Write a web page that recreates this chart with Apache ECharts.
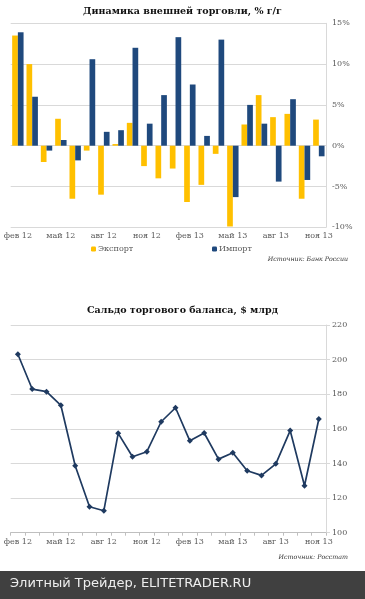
<!DOCTYPE html>
<html><head><meta charset="utf-8">
<script src="https://cdn.jsdelivr.net/npm/echarts@6/dist/echarts.min.js"></script>
<style>html,body{margin:0;padding:0;background:#fff}#c{width:365px;height:599px}</style>
</head><body><div id="c"></div>
<script>
const months = ['фев 12','мар 12','апр 12','май 12','июн 12','июл 12','авг 12','сен 12','окт 12','ноя 12','дек 12','янв 13','фев 13','мар 13','апр 13','май 13','июн 13','июл 13','авг 13','сен 13','окт 13','ноя 13'];
const exportYoY = [13.5,10.0,-2.0,3.3,-6.5,-0.6,-6.0,0.2,2.8,-2.5,-4.0,-2.8,-6.9,-4.8,-1.0,-9.9,2.6,6.2,3.5,3.9,-6.5,3.2];
const importYoY = [13.9,6.0,-0.6,0.7,-1.8,10.6,1.7,1.9,12.0,2.7,6.2,13.3,7.5,1.2,13.0,-6.3,5.0,2.7,-4.4,5.7,-4.2,-1.3];
const balance = [203.1,183.0,181.5,173.6,138.7,115.0,112.7,157.4,143.9,146.8,164.1,172.2,153.1,157.6,142.5,146.2,135.8,133.1,139.8,159.0,127.1,165.7];
const pctTicks = {min:-10,max:15,interval:5};
const balTicks = {min:100,max:220,interval:20};

const serif = 'DejaVu Serif';
const grey = '#595959';
const gridCol = '#d9d9d9';
const chart = echarts.init(document.getElementById('c'), null, {renderer:'canvas'});
chart.setOption({
  animation:false,
  title:[
    {text:'Динамика внешней торговли, % г/г', left:'center', top:2, textStyle:{fontFamily:serif, fontWeight:'bold', fontSize:9.5, color:'#111'}},
    {text:'Сальдо торгового баланса, $ млрд', left:'center', top:301, textStyle:{fontFamily:serif, fontWeight:'bold', fontSize:9.5, color:'#111'}}
  ],
  legend:[
    {data:['Экспорт'], left:86, top:240, itemWidth:5, itemHeight:5, itemGap:3, textStyle:{fontFamily:serif, fontSize:8, color:grey, padding:[0,0,0,-3]}},
    {data:['Импорт'], left:207, top:240, itemWidth:5, itemHeight:5, itemGap:3, textStyle:{fontFamily:serif, fontSize:8, color:grey, padding:[0,0,0,-3]}}
  ],
  grid:[
    {left:10.7, right:39, top:23.3, height:204},
    {left:10.7, right:39, top:325, height:207.7}
  ],
  xAxis:[
    {type:'category', gridIndex:0, data:months, axisLine:{show:false, onZero:false}, axisTick:{show:false},
     axisLabel:{interval:2, margin:5, fontFamily:serif, fontSize:8, color:grey}},
    {type:'category', gridIndex:1, data:months, axisLine:{show:true, lineStyle:{color:'#bfbfbf'}}, axisTick:{show:true, interval:0, length:3, lineStyle:{color:'#bfbfbf'}},
     axisLabel:{interval:2, margin:5, fontFamily:serif, fontSize:8, color:grey}}
  ],
  yAxis:[
    {type:'value', gridIndex:0, position:'right', min:pctTicks.min, max:pctTicks.max, interval:pctTicks.interval,
     axisLine:{show:true, lineStyle:{color:gridCol}}, axisTick:{show:false},
     splitLine:{lineStyle:{color:gridCol}},
     axisLabel:{margin:6, formatter:'{value}%', fontFamily:serif, fontSize:8, color:grey}},
    {type:'value', gridIndex:1, position:'right', min:balTicks.min, max:balTicks.max, interval:balTicks.interval,
     axisLine:{show:true, lineStyle:{color:gridCol}}, axisTick:{show:true, length:4, lineStyle:{color:gridCol}},
     splitLine:{lineStyle:{color:gridCol}},
     axisLabel:{margin:6, fontFamily:serif, fontSize:8, color:grey}}
  ],
  series:[
    {name:'Экспорт', type:'bar', xAxisIndex:0, yAxisIndex:0, data:exportYoY, barWidth:5.7, barGap:'0%', itemStyle:{color:'#FFC000'}},
    {name:'Импорт', type:'bar', xAxisIndex:0, yAxisIndex:0, data:importYoY, barWidth:5.7, barGap:'0%', itemStyle:{color:'#1F497D'}},
    {name:'Сальдо', type:'line', xAxisIndex:1, yAxisIndex:1, data:balance, symbol:'diamond', symbolSize:6,
     lineStyle:{color:'#1F3A60', width:1.7}, itemStyle:{color:'#1F3A60'}}
  ],
  graphic:[
    {type:'text', right:17, top:256, style:{text:'Источник: Банк России', font:'italic 6.3px "DejaVu Serif"', fill:'#333'}},
    {type:'text', right:17, top:554, style:{text:'Источник: Росстат', font:'italic 6.3px "DejaVu Serif"', fill:'#333'}},
    {type:'rect', shape:{x:0, y:571, width:365, height:28}, style:{fill:'#404040'}},
    {type:'text', left:10, top:577, style:{text:'Элитный Трейдер, ELITETRADER.RU', font:'13px "DejaVu Sans", sans-serif', fill:'#eeeeee'}}
  ]
});
</script></body></html>
